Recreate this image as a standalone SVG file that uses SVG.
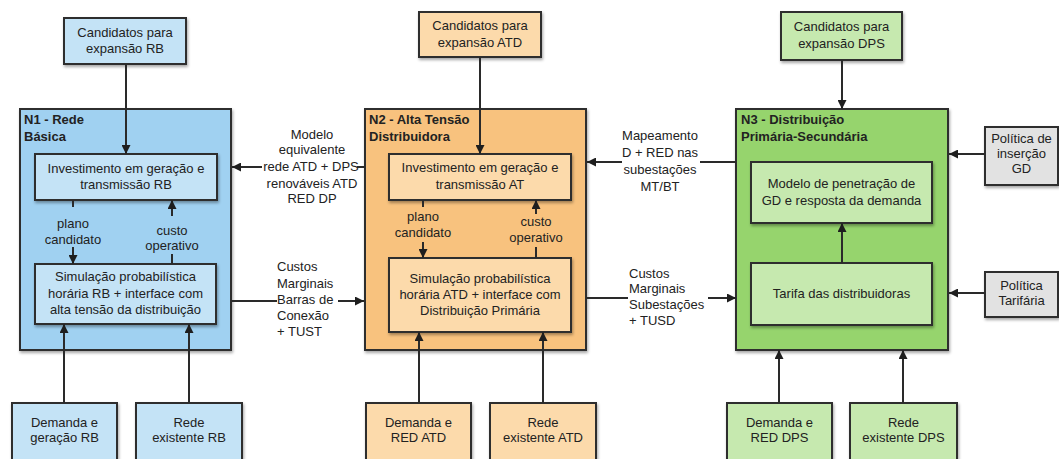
<svg xmlns="http://www.w3.org/2000/svg" width="1059" height="459" viewBox="0 0 1059 459">
  <style>
    text { font-family: "Liberation Sans", Arial, sans-serif; font-size: 13px; fill: #222; }
    .c { text-anchor: middle; }
    .t { font-weight: bold; font-size: 13px; }
    .box { stroke: #2e2e2e; stroke-width: 2; filter: url(#sh); }
    .panel { stroke: #2e2e2e; stroke-width: 2; filter: url(#sh); }
    .b1 { fill: #a0d1f1; } .i1 { fill: #c4e3f6; }
    .b2 { fill: #f8c27e; } .i2 { fill: #fcdaab; }
    .b3 { fill: #96d46d; } .i3 { fill: #c6e9af; }
    .g  { fill: #e2e2e2; }
    .ln { stroke: #2a2a2a; stroke-width: 2; fill: none; }
    .ar { marker-end: url(#ah); }
  </style>
  <defs>
    <marker id="ah" viewBox="0 0 10 10" refX="10" refY="5" markerWidth="9" markerHeight="9" markerUnits="userSpaceOnUse" orient="auto">
      <path d="M0,0 L10,5 L0,10 Z" fill="#1e1e1e"/>
    </marker>
    <filter id="sh" x="-10%" y="-10%" width="130%" height="130%">
      <feDropShadow dx="1" dy="2" stdDeviation="1.5" flood-color="#000" flood-opacity="0.35"/>
    </filter>
  </defs>

  <rect width="1059" height="459" fill="#fff"/>

  <!-- N1: Rede Básica -->
  <g id="n1-candidatos">
    <rect class="box i1" x="64" y="18" width="122" height="46"/>
    <text class="c" x="125" y="36.5">Candidatos para</text>
    <text class="c" x="125" y="52.5">expansão RB</text>
  </g>
  <g id="n1-panel">
    <rect class="panel b1" x="20" y="109" width="211" height="241"/>
    <text class="t" x="24" y="123.5">N1 - Rede</text>
    <text class="t" x="24" y="140.5">Básica</text>
  </g>
  <g id="n1-investimento">
    <rect class="box i1" x="35" y="154" width="182" height="46"/>
    <text class="c" x="126" y="173">Investimento em geração e</text>
    <text class="c" x="126" y="189">transmissão  RB</text>
  </g>
  <g id="n1-simulacao">
    <rect class="box i1" x="35" y="264" width="181" height="60"/>
    <text class="c" x="125.5" y="281">Simulação probabilística</text>
    <text class="c" x="125.5" y="297.5">horária RB + interface com</text>
    <text class="c" x="125.5" y="314">alta tensão da distribuição</text>
  </g>
  <g id="n1-demanda">
    <rect class="box i1" x="12" y="403" width="105" height="70"/>
    <text class="c" x="64.5" y="426.5">Demanda e</text>
    <text class="c" x="64.5" y="442">geração RB</text>
  </g>
  <g id="n1-rede">
    <rect class="box i1" x="136" y="403" width="106" height="70"/>
    <text class="c" x="189" y="426.5">Rede</text>
    <text class="c" x="189" y="442">existente RB</text>
  </g>

  <!-- N2: Alta Tensão Distribuidora -->
  <g id="n2-candidatos">
    <rect class="box i2" x="419" y="12" width="122" height="45"/>
    <text class="c" x="480" y="29.5">Candidatos para</text>
    <text class="c" x="480" y="46.5">expansão ATD</text>
  </g>
  <g id="n2-panel">
    <rect class="panel b2" x="365" y="109" width="221" height="241"/>
    <text class="t" x="369" y="123.5">N2 - Alta Tensão</text>
    <text class="t" x="369" y="140.5">Distribuidora</text>
  </g>
  <g id="n2-investimento">
    <rect class="box i2" x="389" y="154" width="182" height="46"/>
    <text class="c" x="480" y="171.5">Investimento em geração e</text>
    <text class="c" x="480" y="188.5">transmissão AT</text>
  </g>
  <g id="n2-simulacao">
    <rect class="box i2" x="389" y="258" width="182" height="74"/>
    <text class="c" x="480" y="282.5">Simulação probabilística</text>
    <text class="c" x="480" y="298.5">horária ATD + interface com</text>
    <text class="c" x="480" y="314.5">Distribuição Primária</text>
  </g>
  <g id="n2-demanda">
    <rect class="box i2" x="366" y="403" width="105" height="70"/>
    <text class="c" x="418.5" y="426.5">Demanda e</text>
    <text class="c" x="418.5" y="442">RED ATD</text>
  </g>
  <g id="n2-rede">
    <rect class="box i2" x="490" y="403" width="106" height="70"/>
    <text class="c" x="543" y="426.5">Rede</text>
    <text class="c" x="543" y="442">existente ATD</text>
  </g>

  <!-- N3: Distribuição Primária-Secundária -->
  <g id="n3-candidatos">
    <rect class="box i3" x="781" y="12" width="121" height="48"/>
    <text class="c" x="841.5" y="30.5">Candidatos para</text>
    <text class="c" x="841.5" y="47.5">expansão DPS</text>
  </g>
  <g id="n3-panel">
    <rect class="panel b3" x="736" y="109" width="212" height="241"/>
    <text class="t" x="741" y="123.5">N3 - Distribuição</text>
    <text class="t" x="741" y="140.5">Primária-Secundária</text>
  </g>
  <g id="n3-penetracao">
    <rect class="box i3" x="751" y="162" width="181" height="61"/>
    <text class="c" x="841.5" y="187.5">Modelo de penetração de</text>
    <text class="c" x="841.5" y="204.5">GD e resposta da demanda</text>
  </g>
  <g id="n3-tarifa">
    <rect class="box i3" x="751" y="263" width="181" height="62"/>
    <text class="c" x="841.5" y="297.5">Tarifa das distribuidoras</text>
  </g>
  <g id="n3-demanda">
    <rect class="box i3" x="727" y="403" width="105" height="70"/>
    <text class="c" x="779.5" y="426.5">Demanda e</text>
    <text class="c" x="779.5" y="442">RED DPS</text>
  </g>
  <g id="n3-rede">
    <rect class="box i3" x="850" y="403" width="107" height="70"/>
    <text class="c" x="903.5" y="426.5">Rede</text>
    <text class="c" x="903.5" y="442">existente DPS</text>
  </g>
  <g id="politica-gd">
    <rect class="box g" x="985" y="127" width="73" height="58"/>
    <text class="c" x="1021.5" y="142.5">Política de</text>
    <text class="c" x="1021.5" y="157.5">inserção</text>
    <text class="c" x="1021.5" y="172.5">GD</text>
  </g>
  <g id="politica-tarifaria">
    <rect class="box g" x="985" y="272" width="73" height="45"/>
    <text class="c" x="1021.5" y="289.5">Política</text>
    <text class="c" x="1021.5" y="304.5">Tarifária</text>
  </g>

  <!-- Connectors -->
  <g id="connectors">
    <!-- N1 -->
    <line class="ln ar" x1="126" y1="64" x2="126" y2="154"/>
    <line class="ln" x1="73" y1="200" x2="73" y2="207"/>
    <line class="ln ar" x1="73" y1="247" x2="73" y2="264"/>
    <line class="ln ar" x1="172" y1="216" x2="172" y2="200"/>
    <line class="ln" x1="172" y1="254" x2="172" y2="264"/>
    <line class="ln ar" x1="64" y1="403" x2="64" y2="324"/>
    <line class="ln ar" x1="189" y1="403" x2="189" y2="324"/>
    <text class="c" x="73" y="227.5">plano</text>
    <text class="c" x="73" y="244">candidato</text>
    <text class="c" x="172" y="234.5">custo</text>
    <text class="c" x="172" y="250">operativo</text>

    <!-- N2 -> N1 -->
    <line class="ln" x1="365" y1="167" x2="357" y2="167"/>
    <line class="ln ar" x1="262" y1="167" x2="232" y2="167"/>
    <text class="c" x="312" y="138.5">Modelo</text>
    <text class="c" x="312" y="153.5">equivalente</text>
    <text class="c" x="311" y="170.5">rede ATD + DPS</text>
    <text class="c" x="312" y="187.5">renováveis ATD</text>
    <text class="c" x="312" y="202.5">RED DP</text>

    <!-- N1 -> N2 -->
    <line class="ln" x1="231" y1="301" x2="277" y2="301"/>
    <line class="ln ar" x1="338" y1="301" x2="364" y2="301"/>
    <text x="277" y="270.5">Custos</text>
    <text x="277" y="287.5">Marginais</text>
    <text x="277" y="303.5">Barras de</text>
    <text x="277" y="319.5">Conexão</text>
    <text x="277" y="335.5">+ TUST</text>

    <!-- N2 -->
    <line class="ln ar" x1="480" y1="57" x2="480" y2="154"/>
    <line class="ln" x1="423" y1="200" x2="423" y2="207"/>
    <line class="ln ar" x1="423" y1="242" x2="423" y2="258"/>
    <line class="ln ar" x1="536" y1="214" x2="536" y2="200"/>
    <line class="ln" x1="536" y1="247" x2="536" y2="258"/>
    <line class="ln ar" x1="419" y1="403" x2="419" y2="332"/>
    <line class="ln ar" x1="543" y1="403" x2="543" y2="332"/>
    <text class="c" x="423" y="220.5">plano</text>
    <text class="c" x="423" y="236.5">candidato</text>
    <text class="c" x="536" y="225.5">custo</text>
    <text class="c" x="536" y="241.5">operativo</text>

    <!-- N3 -> N2 -->
    <line class="ln" x1="736" y1="162" x2="700" y2="162"/>
    <line class="ln ar" x1="622" y1="162" x2="587" y2="162"/>
    <text class="c" x="660" y="139.5">Mapeamento</text>
    <text class="c" x="660" y="156.5">D + RED nas</text>
    <text class="c" x="660" y="173.5">subestações</text>
    <text class="c" x="660" y="190.5">MT/BT</text>

    <!-- N2 -> N3 -->
    <line class="ln" x1="586" y1="298" x2="628" y2="298"/>
    <line class="ln ar" x1="708" y1="298" x2="736" y2="298"/>
    <text x="629" y="277.5">Custos</text>
    <text x="629" y="293">Marginais</text>
    <text x="629" y="308.5">Subestações</text>
    <text x="629" y="324.5">+ TUSD</text>

    <!-- N3 -->
    <line class="ln ar" x1="842" y1="60" x2="842" y2="109"/>
    <line class="ln ar" x1="842" y1="263" x2="842" y2="223"/>
    <line class="ln ar" x1="985" y1="154" x2="949" y2="154"/>
    <line class="ln ar" x1="985" y1="293" x2="949" y2="293"/>
    <line class="ln ar" x1="779" y1="403" x2="779" y2="350"/>
    <line class="ln ar" x1="903" y1="403" x2="903" y2="350"/>
  </g>
</svg>
